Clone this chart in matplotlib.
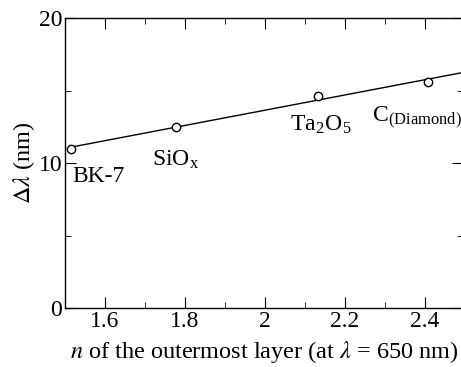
import numpy as np
import matplotlib
matplotlib.use("Agg")
import matplotlib.pyplot as plt
from matplotlib.ticker import MultipleLocator

# refractive index of outermost layer vs. shift
materials = ["BK-7", "SiO$_\\mathregular{x}$", "Ta$_\\mathregular{2}$O$_\\mathregular{5}$",
             "C$_\\mathregular{(Diamond)}$"]
n_index = [1.515, 1.777, 2.133, 2.408]
d_lambda = [11.0, 12.48, 14.62, 15.59]

# where the material names sit (data coords)
label_x = [1.5825, 1.7775, 2.14, 2.38]
label_y = [9.1, 10.2, 12.6, 13.1]

plt.rcParams["font.family"] = ["Liberation Serif", "DejaVu Serif"]
plt.rcParams["mathtext.fontset"] = "stix"

fig = plt.figure(figsize=(4.61, 3.67), dpi=100)
# right spine falls just outside the picture, as in the original
ax = fig.add_axes([65 / 461, 59 / 367, 398 / 461, 290 / 367])

# linear fit through the points
k, b = np.polyfit(n_index, d_lambda, 1)
xs = np.array([n_index[0], 2.55])
ax.plot(xs, k * xs + b, color="black", lw=1.0)
ax.plot(n_index, d_lambda, "o", ms=6, mfc="white", mec="black", mew=1.0)

for name, x, y in zip(materials, label_x, label_y):
    ax.text(x, y, name, fontsize=17, ha="center", va="center")

ax.set_xlim(1.5, 2.495)
ax.set_ylim(0, 20)
ax.xaxis.set_major_locator(MultipleLocator(0.2))
ax.xaxis.set_minor_locator(MultipleLocator(0.1))
ax.yaxis.set_major_locator(MultipleLocator(10))
ax.yaxis.set_minor_locator(MultipleLocator(5))
ax.xaxis.set_major_formatter(plt.FuncFormatter(lambda v, p: f"{v:g}"))
ax.tick_params(which="both", direction="in", top=True, right=True, labelsize=17, pad=2)
ax.tick_params(which="major", length=8)
ax.tick_params(which="minor", length=4)
for s in ax.spines.values():
    s.set_linewidth(1.0)

ax.set_xlabel("$n$ of the outermost layer (at $\\lambda$ = 650 nm)", fontsize=17.5, labelpad=5)
ax.set_ylabel("$\\Delta\\lambda$ (nm)", fontsize=17.5, labelpad=1)

fig.savefig("out.png", dpi=100)
